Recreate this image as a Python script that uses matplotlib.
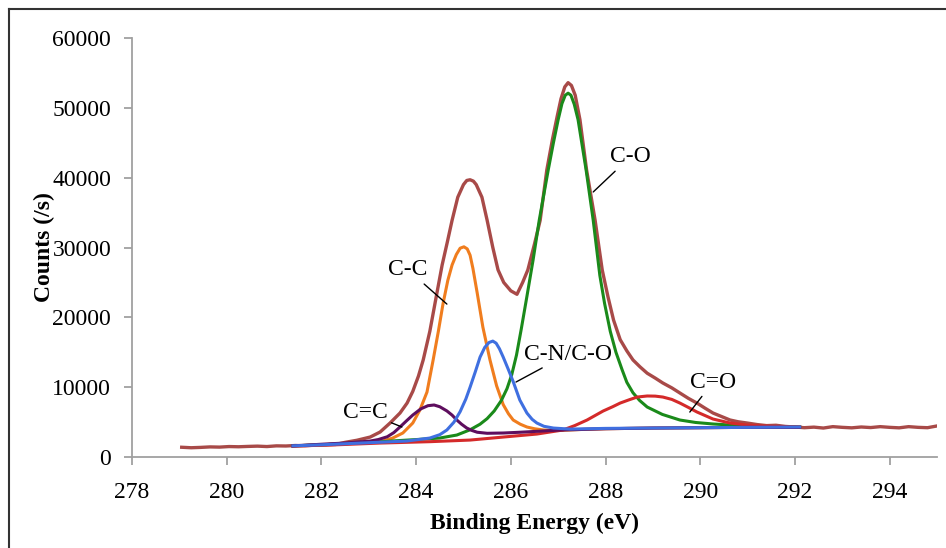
import matplotlib
matplotlib.use("Agg")
import matplotlib.pyplot as plt
from matplotlib.lines import Line2D

plt.rcParams['font.family'] = ['Liberation Serif', 'DejaVu Serif']

# envelope (measured)
env_e = [279.05, 279.25, 279.45, 279.65, 279.85, 280.05, 280.25, 280.45, 280.65, 280.85,
         281.05, 281.25, 281.45, 281.65, 281.85, 282.05, 282.3, 282.5, 282.75, 283.03,
         283.24, 283.45, 283.66, 283.81, 283.93, 284.05, 284.15, 284.29, 284.44, 284.55,
         284.66, 284.76, 284.88, 285.0, 285.07, 285.14, 285.21, 285.27, 285.39, 285.5,
         285.62, 285.73, 285.85, 286.0, 286.13, 286.25, 286.36, 286.5, 286.62, 286.76,
         286.88, 286.98, 287.06, 287.14, 287.21, 287.28, 287.36, 287.46, 287.6, 287.78,
         287.93, 288.05, 288.17, 288.31, 288.45, 288.58, 288.73, 288.88, 289.05, 289.21,
         289.4, 289.57, 289.75, 289.93, 290.1, 290.27, 290.45, 290.63, 290.8, 290.99,
         291.2, 291.4, 291.6, 291.8, 292.0, 292.2, 292.4, 292.6, 292.8, 293.0,
         293.2, 293.4, 293.6, 293.8, 294.0, 294.2, 294.4, 294.6, 294.8, 295.0]
env_c = [1400, 1330, 1380, 1450, 1420, 1500, 1470, 1520, 1560, 1500,
         1600, 1580, 1650, 1620, 1700, 1750, 1800, 2100, 2400, 2860,
         3580, 4870, 6300, 7730, 9400, 11600, 13900, 18000, 23500, 27500,
         30800, 33900, 37200, 39000, 39600, 39700, 39500, 39000, 37200, 33900,
         30000, 26800, 25000, 23800, 23300, 25000, 26800, 30500, 33900, 41100,
         45500, 48800, 51300, 53000, 53600, 53200, 51800, 48300, 41100, 33900,
         26800, 23000, 19600, 16800, 15200, 13900, 12900, 12000, 11300, 10600,
         9900, 9170, 8400, 7730, 7000, 6300, 5800, 5300, 5050, 4870,
         4650, 4500, 4550, 4380, 4300, 4200, 4280, 4150, 4350, 4250,
         4180, 4300, 4220, 4350, 4250, 4180, 4350, 4250, 4200, 4450]

# C-C component
cc_e = [281.4, 282.0, 282.5, 283.0, 283.3, 283.5, 283.72, 283.93, 284.08, 284.23,
        284.36, 284.47, 284.57, 284.67, 284.76, 284.85, 284.93, 285.01, 285.08, 285.14,
        285.2, 285.29, 285.41, 285.56, 285.7, 285.84, 285.95, 286.05, 286.2, 286.34,
        286.5, 286.69, 287.0, 287.5, 288.0, 289.0, 290.0, 291.0, 292.1]
cc_c = [1600, 1750, 1900, 2100, 2300, 2700, 3440, 4870, 6730, 9300,
        13900, 18000, 22000, 25300, 27500, 29000, 29900, 30100, 29800, 28900,
        27000, 23500, 18600, 13900, 10200, 7500, 6200, 5300, 4700, 4300,
        4050, 3870, 3800, 3950, 4050, 4150, 4200, 4250, 4250]

# C=C component
c2c_e = [281.4, 282.18, 282.5, 283.03, 283.2, 283.39, 283.53, 283.66, 283.8, 283.93,
         284.1, 284.25, 284.38, 284.5, 284.65, 284.76, 284.86, 284.96, 285.07, 285.18,
         285.29, 285.5, 285.84, 286.2, 286.6, 287.0, 287.5, 288.0, 289.0, 290.0,
         291.0, 292.1]
c2c_c = [1600, 1900, 2000, 2290, 2500, 2900, 3500, 4300, 5200, 6010,
         6900, 7350, 7450, 7200, 6600, 6000, 5300, 4700, 4150, 3800,
         3550, 3400, 3440, 3550, 3700, 3850, 3950, 4050, 4150, 4200,
         4250, 4250]

# C-N/C-O component
cn_e = [281.4, 282.0, 282.5, 283.0, 283.5, 283.8, 284.1, 284.29, 284.5, 284.65,
        284.8, 284.93, 285.05, 285.14, 285.25, 285.35, 285.45, 285.54, 285.62, 285.69,
        285.76, 285.84, 285.95, 286.05, 286.19, 286.34, 286.45, 286.55, 286.7, 286.9,
        287.25, 288.0, 289.0, 290.0, 291.0, 292.1]
cn_c = [1600, 1750, 1900, 2050, 2200, 2290, 2550, 2720, 3200, 3870,
        5000, 6500, 8300, 10000, 12200, 14300, 15700, 16400, 16600, 16300,
        15500, 14300, 12500, 10800, 8160, 6300, 5400, 4870, 4400, 4150,
        4000, 4100, 4150, 4200, 4250, 4300]

# C-O component
co_e = [281.4, 282.0, 282.5, 283.0, 283.5, 284.0, 284.5, 284.86, 285.14, 285.35,
        285.5, 285.65, 285.8, 285.92, 286.02, 286.12, 286.22, 286.34, 286.47, 286.6,
        286.79, 286.9, 287.0, 287.08, 287.15, 287.21, 287.27, 287.34, 287.42, 287.59,
        287.74, 287.88, 287.98, 288.1, 288.22, 288.35, 288.45, 288.58, 288.72, 288.88,
        289.2, 289.57, 289.9, 290.27, 290.99, 291.5, 292.1]
co_c = [1600, 1750, 1900, 2050, 2300, 2500, 2720, 3150, 3900, 4700,
        5500, 6600, 8100, 9800, 11800, 14600, 18300, 23000, 28200, 33900,
        41100, 45000, 48300, 50600, 51800, 52100, 51800, 50500, 48300, 41100,
        33900, 26000, 22000, 18000, 15000, 12500, 10700, 9200, 8100, 7160,
        6100, 5300, 4950, 4730, 4440, 4350, 4300]

# C=O component
cdo_e = [281.4, 281.8, 282.2, 283.24, 284.3, 285.14, 285.84, 286.55, 287.1, 287.35,
         287.61, 287.95, 288.15, 288.31, 288.5, 288.67, 288.88, 289.05, 289.21, 289.4,
         289.57, 289.75, 289.93, 290.27, 290.63, 290.99, 291.5, 292.1]
cdo_c = [1550, 1650, 1720, 2000, 2200, 2430, 2860, 3290, 3870, 4500,
         5300, 6590, 7200, 7730, 8200, 8590, 8740, 8720, 8590, 8250,
         7730, 7100, 6450, 5440, 4870, 4580, 4400, 4300]

labels = ['C-C', 'C=C', 'C-N/C-O', 'C=O', 'C-O']
label_xy = [(284.65, 21900), (283.70, 4300), (286.11, 10740), (289.78, 6440), (287.74, 37950)]
label_text = [(283.83, 26800), (282.92, 6440), (287.21, 14750), (290.27, 10740), (288.52, 42960)]

xticks = list(range(278, 296, 2))
yticks = list(range(0, 60001, 10000))

fig = plt.figure(figsize=(9.46, 5.48), dpi=100)
ax = fig.add_axes([0.1395, 0.166, 0.851, 0.7647])

ax.plot(cc_e, cc_c, color='#F07D1E', lw=2.2)
ax.plot(co_e, co_c, color='#1A8A1A', lw=2.2)
ax.plot(cdo_e, cdo_c, color='#D42A2A', lw=2.2)
ax.plot(c2c_e, c2c_c, color='#5E0E5E', lw=2.2)
ax.plot(cn_e, cn_c, color='#3F6FE0', lw=2.2)
ax.plot(env_e, env_c, color='#A84A48', lw=2.4, zorder=1)

for lab, xy, txt in zip(labels, label_xy, label_text):
    ax.annotate(lab, xy=xy, xytext=txt, ha='center', va='center', fontsize=17,
                arrowprops=dict(arrowstyle='-', color='black', lw=1, shrinkA=1, shrinkB=0))

ax.set_xlim(278, 295)
ax.set_ylim(0, 60000)
ax.set_xticks(xticks)
ax.set_yticks(yticks)
for s in ['top', 'right']:
    ax.spines[s].set_visible(False)
for s in ['left', 'bottom']:
    ax.spines[s].set_color('#a0a0a0')
    ax.spines[s].set_linewidth(1.3)
ax.tick_params(colors='#a0a0a0', length=6, width=1.3, labelsize=17, labelcolor='black')
ax.tick_params(axis='y', pad=9)
ax.tick_params(axis='x', pad=12)

ax.set_xlabel('Binding Energy (eV)', fontsize=17, fontweight='bold', labelpad=7)
ax.set_ylabel('Counts (/s)', fontsize=17, fontweight='bold', labelpad=-2)

# figure frame (left and top edge)
fig.add_artist(Line2D([9 / 946, 9 / 946], [0, 1 - 9 / 548], color='#333333', lw=1.5))
fig.add_artist(Line2D([9 / 946, 1], [1 - 9 / 548, 1 - 9 / 548], color='#333333', lw=1.5))

fig.savefig('out.png', dpi=100)
